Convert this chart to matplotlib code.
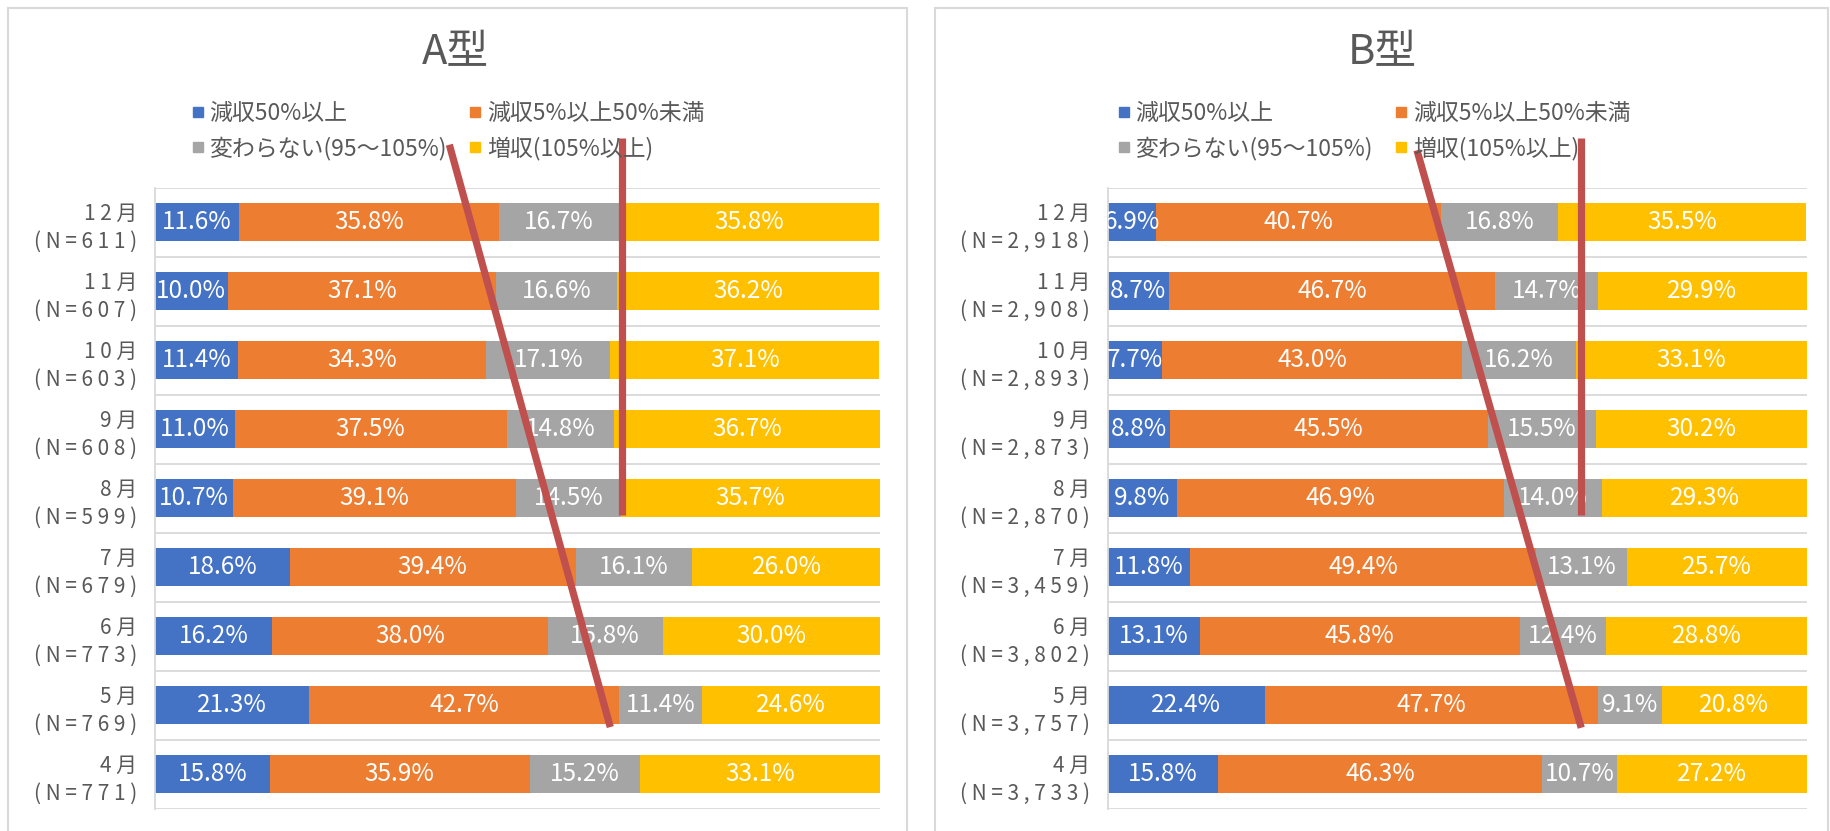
import matplotlib
matplotlib.use("Agg")
import matplotlib.pyplot as plt
import numpy as np
from matplotlib.lines import Line2D
from matplotlib.patches import Rectangle

plt.rcParams['font.family'] = ['Noto Sans CJK JP', 'DejaVu Sans']

# --- data ---
months = ['12月', '11月', '10月', '9月', '8月', '7月', '6月', '5月', '4月']
n_a = [611, 607, 603, 608, 599, 679, 773, 769, 771]
n_b = [2918, 2908, 2893, 2873, 2870, 3459, 3802, 3757, 3733]

categories = ['減収50%以上', '減収5%以上50%未満', '変わらない(95～105%)', '増収(105%以上)']
colors = ['#4472C4', '#ED7D31', '#A5A5A5', '#FFC000']

a_down50 = [11.6, 10.0, 11.4, 11.0, 10.7, 18.6, 16.2, 21.3, 15.8]
a_down5 = [35.8, 37.1, 34.3, 37.5, 39.1, 39.4, 38.0, 42.7, 35.9]
a_same = [16.7, 16.6, 17.1, 14.8, 14.5, 16.1, 15.8, 11.4, 15.2]
a_up = [35.8, 36.2, 37.1, 36.7, 35.7, 26.0, 30.0, 24.6, 33.1]

b_down50 = [6.9, 8.7, 7.7, 8.8, 9.8, 11.8, 13.1, 22.4, 15.8]
b_down5 = [40.7, 46.7, 43.0, 45.5, 46.9, 49.4, 45.8, 47.7, 46.3]
b_same = [16.8, 14.7, 16.2, 15.5, 14.0, 13.1, 12.4, 9.1, 10.7]
b_up = [35.5, 29.9, 33.1, 30.2, 29.3, 25.7, 28.8, 20.8, 27.2]

# red hand-drawn marks: (x%, row) start/end
red_a = [((64.4, -1.22), (64.4, 4.25)), ((40.6, -1.12), (62.8, 7.32))]
red_b = [((67.7, -1.22), (67.7, 4.25)), ((44.2, -1.04), (67.7, 7.33))]

TEXT = '#595959'
GRID = '#D9D9D9'
W, H = 1831, 831


def spaced(s):
    # the original labels are letter-spaced
    return ' '.join(s)


def tick_labels(ns):
    return [spaced(m[:-1]) + ' 月\n' + spaced('(N=' + f'{n:,}' + ')') for m, n in zip(months, ns)]


def draw_panel(ax, series, ns, marks):
    y = np.arange(len(months))
    left = np.zeros(len(months))
    for vals, c in zip(series, colors):
        vals = np.array(vals)
        ax.barh(y, vals, left=left, height=0.55, color=c, zorder=2)
        for yi, l, v in zip(y, left, vals):
            ax.text(l + v / 2, yi, f'{v:.1f}%', ha='center', va='center',
                    color='white', fontsize=17.5, zorder=3, clip_on=True)
        left = left + vals
    ax.hlines(np.arange(-0.5, len(months), 1), 0, 100, color=GRID, lw=1.3, zorder=1)
    ax.set_xlim(0, 100)
    ax.set_ylim(len(months) - 0.5, -0.5)
    ax.set_yticks(y)
    ax.set_yticklabels(tick_labels(ns), fontsize=15, color=TEXT, linespacing=1.35)
    ax.tick_params(axis='y', length=0, pad=13)
    ax.set_xticks([])
    for s in ['top', 'right', 'bottom']:
        ax.spines[s].set_visible(False)
    ax.spines['left'].set_color(GRID)
    ax.spines['left'].set_linewidth(1.3)
    for (x0, y0), (x1, y1) in marks:
        ax.plot([x0, x1], [y0, y1], color='#C0504D', lw=5.2, clip_on=False,
                zorder=6, solid_capstyle='butt')


fig = plt.figure(figsize=(W / 100, H / 100), dpi=100)
fig.patch.set_facecolor('white')

ax_a = fig.add_axes([155 / W, 1 - 808.5 / H, 725 / W, 621 / H])
ax_b = fig.add_axes([1108 / W, 1 - 808.5 / H, 699 / W, 621 / H])

draw_panel(ax_a, [a_down50, a_down5, a_same, a_up], n_a, red_a)
draw_panel(ax_b, [b_down50, b_down5, b_same, b_up], n_b, red_b)

# panel frames
for x0, x1 in [(8, 907), (935, 1828)]:
    fig.patches.append(Rectangle((x0 / W, -0.1), (x1 - x0) / W, 1.1 - 8 / H,
                                 fill=False, edgecolor=GRID, lw=1.5,
                                 transform=fig.transFigure, zorder=0))

fig.text(455 / W, 1 - 53 / H, 'A型', ha='center', va='center', fontsize=30, color=TEXT)
fig.text(1382 / W, 1 - 53 / H, 'B型', ha='center', va='center', fontsize=30, color=TEXT)

# legend fills column-wise, so order as blue, gray | orange, yellow
order = [0, 2, 1, 3]
handles = [Line2D([], [], marker='s', linestyle='', color=colors[i], markersize=7) for i in order]
labels = [categories[i] for i in order]
for x0 in [192, 1118]:
    fig.legend(handles, labels, ncol=2, loc='upper left',
               bbox_to_anchor=(x0 / W, 1 - 102 / H), bbox_transform=fig.transFigure,
               frameon=False, fontsize=16.5, labelcolor=TEXT, handlelength=0.5,
               handletextpad=0.25, columnspacing=1.0, labelspacing=0.5,
               borderpad=0, borderaxespad=0)

fig.savefig('out.png', dpi=100, facecolor='white')
